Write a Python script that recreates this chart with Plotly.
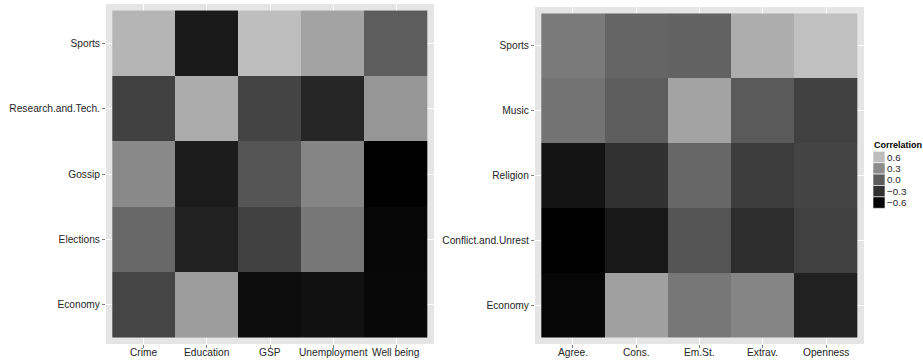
import plotly.graph_objects as go

# Correlations: news topics vs. regional indicators (left) and personality traits (right)
left_cols = ["Crime", "Education", "GSP", "Unemployment", "Well being"]
left_rows = ["Economy", "Elections", "Gossip", "Research.and.Tech.", "Sports"]
left_economy = [-0.16, 0.40, -0.57, -0.54, -0.59]
left_elections = [0.08, -0.42, -0.19, 0.17, -0.60]
left_gossip = [0.28, -0.46, -0.05, 0.26, -0.62]
left_research = [-0.19, 0.49, -0.17, -0.38, 0.36]
left_sports = [0.55, -0.48, 0.60, 0.44, 0.00]

right_cols = ["Agree.", "Cons.", "Em.St.", "Extrav.", "Openness"]
right_rows = ["Economy", "Conflict.and.Unrest", "Religion", "Music", "Sports"]
right_economy = [-0.60, 0.42, 0.17, 0.26, -0.42]
right_conflict = [-0.63, -0.49, -0.06, -0.33, -0.19]
right_religion = [-0.52, -0.30, 0.07, -0.22, -0.17]
right_music = [0.15, 0.00, 0.44, -0.02, -0.19]
right_sports = [0.19, 0.06, 0.04, 0.50, 0.61]

legend_values = [0.6, 0.3, 0.0, -0.3, -0.6]
legend_labels = ["0.6", "0.3", "0.0", "\u22120.3", "\u22120.6"]

ZMIN, ZMAX = -0.626, 0.612
L_HIGH = 77.8  # lightness of the top end of the grey gradient


def lab_grey(L):
    """sRGB hex for a neutral grey of CIE lightness L."""
    y = ((L + 16) / 116) ** 3 if L > 8 else L / 903.3
    c = 12.92 * y if y <= 0.0031308 else 1.055 * y ** (1 / 2.4) - 0.055
    g = max(0, min(255, round(c * 255)))
    return f"#{g:02x}{g:02x}{g:02x}"


def value_colour(v):
    t = (v - ZMIN) / (ZMAX - ZMIN)
    t = max(0.0, min(1.0, t))
    return lab_grey(t * L_HIGH)


N = 24
colorscale = [[i / N, lab_grey(i / N * L_HIGH)] for i in range(N + 1)]

FONT = "Liberation Sans, Arial, sans-serif"
TXT = "#262626"
TICK_SIZE = 10.2

fig = go.Figure()
fig.add_trace(go.Heatmap(
    x=left_cols, y=left_rows,
    z=[left_economy, left_elections, left_gossip, left_research, left_sports],
    zmin=ZMIN, zmax=ZMAX, colorscale=colorscale, showscale=False,
    xaxis="x", yaxis="y", hoverinfo="skip",
))
fig.add_trace(go.Heatmap(
    x=right_cols, y=right_rows,
    z=[right_economy, right_conflict, right_religion, right_music, right_sports],
    zmin=ZMIN, zmax=ZMAX, colorscale=colorscale, showscale=False,
    xaxis="x2", yaxis="y2", hoverinfo="skip",
))

W, H = 923, 360


def px_x(p):
    return p / W


def px_y(p):
    return 1 - p / H


axis_common = dict(
    type="category", showgrid=True, gridcolor="white", gridwidth=1,
    zeroline=False, showline=False, ticks="outside", ticklen=3,
    tickwidth=1, tickcolor="#7f7f7f", automargin=False,
    tickfont=dict(family=FONT, size=TICK_SIZE, color=TXT), fixedrange=True,
    range=[-0.6, 4.6],
)

fig.update_layout(
    width=W, height=H,
    margin=dict(l=0, r=0, t=0, b=0),
    paper_bgcolor="white", plot_bgcolor="#e5e5e5",
    font=dict(family=FONT, size=10, color=TXT),
    xaxis=dict(axis_common, domain=[px_x(106), px_x(434)], anchor="y",
               showticklabels=False),
    yaxis=dict(axis_common, domain=[px_y(344), px_y(4)], anchor="x"),
    xaxis2=dict(axis_common, domain=[px_x(535), px_x(864)], anchor="y2",
                showticklabels=False),
    yaxis2=dict(axis_common, domain=[px_y(344), px_y(7)], anchor="x2"),
    showlegend=False,
)

annotations = []

# Column labels placed just under each panel, at the category positions
for xref, cols in (("x", left_cols), ("x2", right_cols)):
    for c in cols:
        annotations.append(dict(
            text=c, x=c, y=px_y(345), xref=xref, yref="paper",
            xanchor="center", yanchor="top", showarrow=False,
            font=dict(family=FONT, size=TICK_SIZE, color=TXT),
        ))

# Legend for the fill scale: title and stacked keys
key_x0, key_x1 = 873, 885
key_top, key_h = 151.3, 11.4
shapes = []
annotations.append(dict(
    text="<b>Correlation</b>", x=px_x(871.5), y=px_y(145), xref="paper",
    yref="paper", xanchor="left", yanchor="middle", showarrow=False,
    font=dict(family=FONT, size=9, color="#000000"),
))
for i, (v, lab) in enumerate(zip(legend_values, legend_labels)):
    y0 = key_top + i * key_h
    shapes.append(dict(
        type="rect", xref="paper", yref="paper",
        x0=px_x(key_x0), x1=px_x(key_x1), y0=px_y(y0), y1=px_y(y0 + key_h),
        fillcolor=value_colour(v), line=dict(width=0.6, color="white"),
    ))
    annotations.append(dict(
        text=lab, x=px_x(key_x1 - 0.5), y=px_y(y0 + key_h / 2),
        xref="paper", yref="paper", xanchor="left", yanchor="middle",
        showarrow=False, font=dict(family=FONT, size=9.8, color=TXT),
    ))
fig.update_layout(shapes=shapes, annotations=annotations)

fig.write_html("out.html")
